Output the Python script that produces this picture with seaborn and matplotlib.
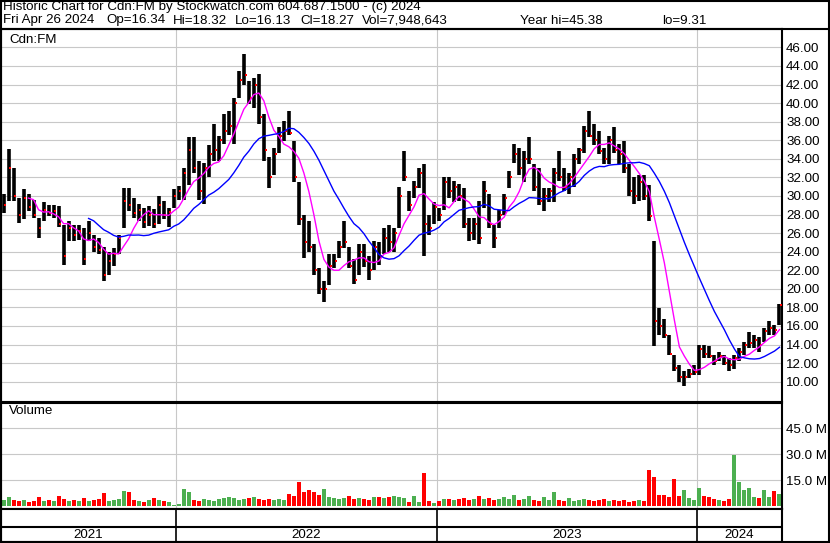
import matplotlib

matplotlib.use("Agg")

import matplotlib.pyplot as plt
import numpy as np
import pandas as pd
import seaborn as sns

# weekly bars (price in $, volume in millions)
high = [30.2, 35.1, 33.0, 29.8, 30.7, 30.2, 29.6, 27.6, 29.4, 29.0,
        29.0, 28.9, 26.9, 27.3, 26.9, 26.9, 26.5, 27.3, 25.8, 25.5,
        24.5, 24.0, 24.4, 25.8, 30.9, 30.9, 29.8, 29.1, 28.7, 28.9,
        28.6, 30.0, 29.5, 28.7, 30.7, 31.1, 33.0, 36.3, 36.3, 33.8,
        33.5, 35.5, 37.7, 36.5, 38.8, 39.2, 40.6, 43.5, 45.3, 42.4,
        42.7, 43.1, 38.8, 34.2, 35.2, 37.4, 38.1, 39.2, 35.9, 31.5,
        28.0, 27.3, 24.8, 22.2, 20.8, 23.7, 23.7, 25.1, 27.3, 24.5,
        23.2, 24.8, 24.8, 23.5, 25.1, 25.0, 26.6, 26.9, 26.6, 31.0,
        34.8, 30.5, 31.6, 33.0, 33.4, 28.0, 29.4, 28.7, 32.0, 32.0,
        31.6, 31.3, 30.9, 27.6, 27.6, 29.5, 31.6, 30.2, 26.9, 28.5,
        30.2, 32.7, 35.6, 35.2, 34.8, 36.3, 33.4, 33.0, 30.9, 30.9,
        33.0, 34.8, 33.0, 32.5, 34.5, 35.2, 37.5, 39.2, 37.7, 37.0,
        35.2, 36.5, 37.4, 35.6, 35.9, 33.4, 32.0, 32.3, 32.3, 31.2,
        25.2, 17.9, 16.8, 15.0, 12.9, 11.8, 11.1, 11.4, 11.8, 14.0,
        14.0, 13.8, 12.9, 13.2, 12.9, 12.5, 12.9, 13.6, 14.3, 15.4,
        15.0, 14.8, 15.8, 16.5, 16.1, 18.32]
low = [28.2, 29.5, 29.5, 27.1, 27.5, 28.4, 27.6, 25.5, 27.3, 27.8,
       27.6, 26.7, 22.6, 25.1, 25.1, 25.3, 22.6, 25.1, 24.0, 23.8,
       20.8, 21.5, 22.5, 23.7, 26.6, 28.4, 27.6, 27.3, 26.6, 26.8,
       26.6, 27.0, 27.5, 26.7, 28.7, 29.6, 29.6, 31.2, 32.5, 29.6,
       29.1, 32.0, 33.8, 33.8, 35.6, 36.6, 35.6, 40.6, 42.0, 39.9,
       39.5, 37.8, 33.8, 30.9, 32.3, 34.6, 35.9, 36.6, 31.5, 26.9,
       23.3, 24.0, 21.5, 19.4, 18.6, 20.4, 22.2, 23.3, 24.4, 22.2,
       20.5, 21.5, 22.4, 21.0, 22.0, 22.6, 23.7, 24.0, 24.0, 26.5,
       31.6, 28.4, 29.8, 30.9, 23.5, 25.8, 27.0, 27.3, 28.5, 29.8,
       29.4, 29.5, 26.5, 25.1, 25.3, 24.8, 28.7, 26.6, 24.4, 26.6,
       28.0, 30.9, 33.5, 32.3, 31.5, 33.4, 30.5, 29.0, 28.4, 29.4,
       29.4, 31.6, 30.5, 30.2, 31.0, 33.4, 34.6, 36.3, 35.5, 34.5,
       33.4, 33.4, 34.6, 33.4, 32.5, 30.0, 29.1, 29.5, 29.6, 27.3,
       13.8, 15.0, 14.7, 12.9, 11.1, 10.0, 9.5, 10.4, 10.7, 10.7,
       12.5, 12.5, 11.8, 12.2, 11.8, 11.1, 11.4, 12.2, 12.9, 13.6,
       13.6, 13.2, 14.3, 15.0, 15.0, 16.13]
close = [29.0, 33.0, 30.0, 28.0, 29.8, 28.8, 28.0, 26.5, 28.5, 28.2,
         28.4, 27.0, 23.5, 26.5, 25.8, 26.2, 23.2, 26.0, 24.5, 24.2,
         21.5, 23.0, 23.8, 25.5, 29.5, 29.0, 28.2, 28.5, 27.2, 28.0,
         27.0, 29.0, 28.0, 28.3, 30.0, 30.5, 32.5, 35.0, 33.0, 30.5,
         33.0, 34.5, 35.0, 36.0, 37.0, 37.5, 40.0, 42.5, 43.0, 40.5,
         42.0, 38.5, 35.0, 32.0, 34.5, 36.5, 37.0, 36.8, 32.0, 27.5,
         25.0, 24.5, 22.0, 20.0, 20.0, 22.5, 23.0, 24.5, 25.0, 22.5,
         21.0, 24.0, 23.0, 22.0, 24.5, 23.5, 25.5, 25.0, 26.0, 30.0,
         32.0, 29.0, 31.0, 32.5, 27.0, 26.5, 28.8, 28.0, 31.5, 30.5,
         31.0, 30.0, 27.0, 26.0, 27.0, 25.5, 30.5, 27.0, 25.5, 28.0,
         29.8, 32.0, 34.5, 33.0, 34.0, 34.0, 31.0, 29.5, 30.0, 30.5,
         32.5, 32.0, 31.0, 32.0, 34.0, 35.0, 37.0, 36.5, 36.0, 34.8,
         34.0, 36.0, 35.0, 34.5, 33.0, 30.5, 30.0, 31.5, 30.0, 27.8,
         16.5, 16.0, 15.0, 13.0, 11.5, 10.5, 10.5, 10.8, 11.0, 13.5,
         13.0, 12.8, 12.2, 12.8, 12.0, 11.8, 12.6, 13.2, 14.0, 14.2,
         14.5, 14.0, 15.5, 15.8, 15.6, 18.27]
volume = [3.5, 5.5, 3.5, 3.0, 3.5, 2.5, 3.0, 5.5, 3.0, 3.5,
          3.0, 6.0, 4.0, 3.0, 3.5, 3.0, 4.7, 3.0, 3.5, 4.0,
          7.6, 3.0, 3.5, 4.0, 9.0, 8.0, 3.5, 3.0, 2.5, 3.5,
          4.5, 3.5, 3.0, 2.5, 1.0, 1.5, 10.0, 8.0, 3.5, 3.0,
          4.0, 3.5, 3.0, 4.0, 5.0, 5.5, 4.5, 3.5, 4.0, 4.5,
          5.3, 4.0, 3.5, 4.0, 3.5, 4.0, 3.5, 7.0, 6.0, 14.0,
          8.0, 9.5, 8.5, 6.6, 10.0, 5.5, 4.5, 4.0, 4.5, 6.2,
          4.0, 4.5, 4.0, 3.5, 5.3, 5.3, 4.5, 5.5, 6.0, 5.5,
          5.0, 2.5, 6.0, 2.5, 19.3, 3.0, 2.0, 3.0, 4.0, 4.0,
          3.5, 4.0, 4.5, 3.5, 4.0, 6.2, 4.0, 4.5, 3.5, 4.0,
          5.6, 4.0, 6.6, 3.5, 4.0, 6.2, 3.5, 3.0, 5.3, 3.5,
          8.2, 3.5, 3.0, 4.9, 3.0, 3.5, 4.0, 3.5, 3.0, 3.5,
          4.0, 3.0, 3.5, 3.0, 3.5, 2.5, 3.0, 3.5, 3.0, 21.0,
          17.0, 6.6, 6.6, 5.5, 15.8, 6.0, 9.4, 4.5, 3.5, 10.5,
          6.0, 5.5, 4.0, 3.5, 3.0, 4.0, 29.6, 14.0, 9.5, 10.5,
          5.5, 5.0, 9.4, 5.5, 8.6, 7.0]

price_ticks = np.arange(10, 47, 2)
volume_ticks = [15, 30, 45]

header_1 = "Historic Chart for Cdn:FM by Stockwatch.com 604.687.1500 - (c) 2024"
header_2 = ["Fri Apr 26 2024", "Op=16.34", "Hi=18.32", "Lo=16.13", "Cl=18.27",
            "Vol=7,948,643", "Year hi=45.38", "lo=9.31"]
header_2_x = [3, 106, 173, 235, 300, 362, 520, 662]

GRID = "#C8C8C8"
GREEN = "#4CAF50"
RED = "#FF0000"
W, H = 830, 543
FS = 9.6


def fx(px):
    return px / W


def fy(py):
    return 1 - py / H


def box(left, top, right, bottom):
    return [fx(left), fy(bottom), fx(right) - fx(left), fy(top) - fy(bottom)]


weeks = pd.date_range(end="2024-04-26", periods=len(close), freq="W-FRI")
df = pd.DataFrame({"week": weeks, "high": high, "low": low,
                   "close": close, "volume": volume})
df["pos"] = np.arange(len(df)) + 0.5
df["ma_fast"] = df["close"].rolling(6).mean()
df["ma_slow"] = df["close"].rolling(18).mean()
df["dir"] = np.where(df["close"].diff().fillna(0) >= 0, "up", "down")

years = sorted(df["week"].dt.year.unique())
starts = [int(np.argmax(df["week"].dt.year.values == y)) for y in years]
bounds = starts[1:]
edges = [0] + bounds + [len(df)]

plt.rcParams["font.family"] = ["Liberation Sans", "DejaVu Sans"]
plt.rcParams["font.size"] = FS

fig = plt.figure(figsize=(W / 100, H / 100), dpi=100)

ax_p = fig.add_axes(box(1, 29, 782, 401))
ax_v = fig.add_axes(box(1, 403, 782, 509))
ax_d = fig.add_axes(box(1, 509, 782, 541.5))

# price panel
ax_p.vlines(df["pos"], df["low"], df["high"], colors="black", lw=2.6)
sns.scatterplot(x=df["pos"] + 0.35, y=df["close"], color=RED, marker="s",
                s=3.5, linewidth=0, ax=ax_p, zorder=3)
sns.lineplot(data=df, x="pos", y="ma_fast", color="#FF00FF", lw=1, ax=ax_p, zorder=4)
sns.lineplot(data=df, x="pos", y="ma_slow", color="#0000FF", lw=1, ax=ax_p, zorder=4)
ax_p.set_ylim(7.92, 47.98)
ax_p.set_yticks(price_ticks)
ax_p.set_yticklabels([f"{v:.2f}" for v in price_ticks])
ax_p.grid(axis="y", color=GRID, lw=0.8)
ax_p.set_axisbelow(True)

# volume panel
sns.barplot(data=df, x="pos", y="volume", hue="dir", hue_order=["up", "down"],
            palette={"up": GREEN, "down": RED}, native_scale=True, dodge=False,
            width=0.8, saturation=1, errorbar=None, legend=False, ax=ax_v)
ax_v.set_ylim(-1.56, 59.6)
ax_v.set_yticks(volume_ticks)
ax_v.set_yticklabels([f"{v:.1f} M" for v in volume_ticks])
ax_v.grid(axis="y", color=GRID, lw=0.8)
ax_v.set_axisbelow(True)

for ax in (ax_p, ax_v):
    ax.set_xlim(0, len(df))
    ax.set_xticks([])
    ax.set_xlabel("")
    ax.set_ylabel("")
    ax.yaxis.tick_right()
    ax.tick_params(axis="y", length=0, pad=3, labelsize=FS)
    for b in bounds:
        ax.axvline(b, color=GRID, lw=0.8, zorder=0)
    for s in ax.spines.values():
        s.set_color("black")
        s.set_linewidth(1.5)
ax_p.spines["bottom"].set_linewidth(0.8)

# date strip
ax_d.set_xlim(0, len(df))
ax_d.set_ylim(0, 32.5)
ax_d.set_xticks([])
ax_d.set_yticks([])
ax_d.axhline(14.5, color="black", lw=1.5)
for b in bounds:
    ax_d.axvline(b, color="black", lw=1.2)
for y, a, b in zip(years, edges[:-1], edges[1:]):
    ax_d.text((a + b) / 2, 6.5, str(y), ha="center", va="center", fontsize=FS)
for s in ax_d.spines.values():
    s.set_color("black")
    s.set_linewidth(1.5)

# header and outer frame
fig.text(fx(3), fy(1), header_1, va="top", fontsize=FS)
for txt, x in zip(header_2, header_2_x):
    fig.text(fx(x), fy(14.5), txt, va="top", fontsize=FS)
fig.text(fx(9), fy(34), "Cdn:FM", va="top", fontsize=FS)
fig.text(fx(9), fy(405), "Volume", va="top", fontsize=FS)

for xs, ys in [([0, W], [0.8, 0.8]), ([0, W], [29, 29]), ([0, W], [541.8, 541.8]),
               ([828.5, 828.5], [0, H]), ([1, 1], [0, H])]:
    fig.add_artist(plt.Line2D([fx(x) for x in xs], [fy(y) for y in ys],
                              color="black", lw=1.5))

fig.savefig("out.png", dpi=100)
plt.close(fig)
